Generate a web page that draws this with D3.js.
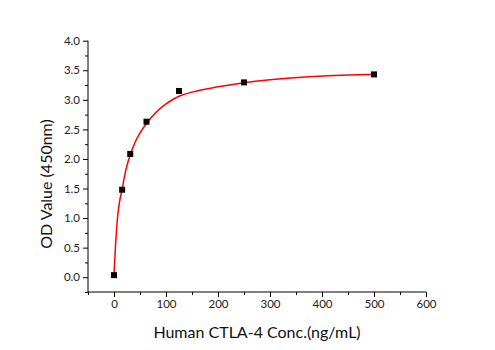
<!DOCTYPE html>
<html><head><meta charset="utf-8">
<script src="https://cdn.jsdelivr.net/npm/d3@7"></script>
<style>body{margin:0;background:#fff}svg{display:block}</style>
</head><body>
<svg id="c" width="495" height="350"></svg>
<script>
const concentrations = [0, 15.625, 31.25, 62.5, 125, 250, 500];
const odValues = [0.035, 1.48, 2.085, 2.63, 3.15, 3.295, 3.43];
const fitX = [0, 3, 6, 9, 12, 15.6, 20, 25, 31.25, 40, 50, 62.5, 80, 100, 125, 150, 200, 250, 300, 375, 450, 500];
const fitY = [0.05, 0.55, 0.93, 1.18, 1.34, 1.48, 1.70, 1.89, 2.07, 2.27, 2.44, 2.60, 2.78, 2.93, 3.06, 3.13, 3.22, 3.29, 3.34, 3.39, 3.42, 3.43];
const xTicks = [0, 100, 200, 300, 400, 500, 600];
const yTicks = [0.0, 0.5, 1.0, 1.5, 2.0, 2.5, 3.0, 3.5, 4.0];
const xTitle = "Human CTLA-4 Conc.(ng/mL)";
const yTitle = "OD Value (450nm)";

const svg = d3.select("#c");
const font = "Lato, 'Open Sans', sans-serif";
const x = d3.scaleLinear().domain([-50, 600]).range([88, 426]);
const y = d3.scaleLinear().domain([-0.25, 4]).range([292, 40.7]);

const xMinor = d3.range(-50, 601, 50).filter(v => v % 100 !== 0);
const yMinor = d3.range(-0.25, 4.01, 0.25).filter(v => Math.abs(v * 2 - Math.round(v * 2)) > 1e-6);

const gx = svg.append("g").attr("transform", "translate(0,292)")
  .call(d3.axisBottom(x).tickValues(xTicks).tickSize(5).tickPadding(3).tickFormat(d3.format("d")));
gx.append("g").call(d3.axisBottom(x).tickValues(xMinor).tickSize(3).tickFormat(""))
  .select(".domain").remove();
const gy = svg.append("g").attr("transform", "translate(88,0)")
  .call(d3.axisLeft(y).tickValues(yTicks).tickSize(5).tickPadding(3).tickFormat(d3.format(".1f")));
gy.append("g").call(d3.axisLeft(y).tickValues(yMinor).tickSize(3).tickFormat(""))
  .select(".domain").remove();

gx.select(".domain").attr("d", `M${x(-50)},0H${x(600)}`);
gy.select(".domain").attr("d", `M0,${y(-0.25)}V${y(4)}`);
svg.selectAll(".domain").attr("stroke", "#000").attr("stroke-width", 1);
svg.selectAll(".tick line").attr("stroke", "#000");
svg.selectAll(".tick text").attr("font-family", font).attr("font-size", 11.5).attr("fill", "#222");

const line = d3.line().x((d, i) => x(fitX[i])).y((d, i) => y(fitY[i])).curve(d3.curveMonotoneX);
svg.append("path").datum(fitY).attr("d", line).attr("fill", "none")
  .attr("stroke", "#ff0000").attr("stroke-width", 1.5);

svg.append("g").selectAll("rect").data(concentrations).join("rect")
  .attr("x", (d) => x(d) - 3).attr("y", (d, i) => y(odValues[i]) - 3)
  .attr("width", 6).attr("height", 6).attr("fill", "#000");

svg.append("text").attr("x", 257).attr("y", 338).attr("text-anchor", "middle")
  .attr("font-family", font).attr("font-size", 16).attr("fill", "#111").text(xTitle);
svg.append("text").attr("transform", "translate(52,184) rotate(-90)").attr("text-anchor", "middle")
  .attr("font-family", font).attr("font-size", 16).attr("fill", "#111").text(yTitle);
</script>
</body></html>
